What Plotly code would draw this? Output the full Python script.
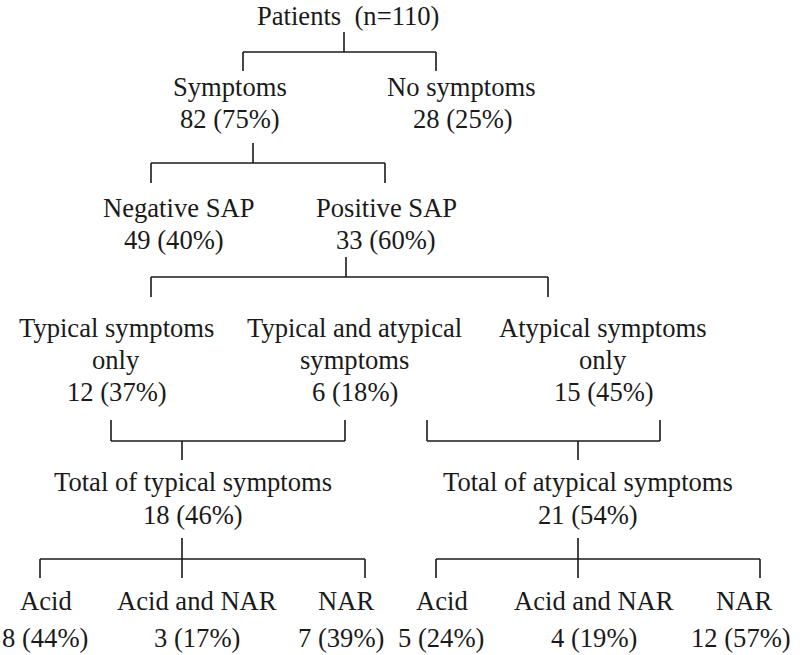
import plotly.graph_objects as go

# ---- data ----
node_names = [
    "Patients  (n=110)",
    "Symptoms", "No symptoms",
    "Negative SAP", "Positive SAP",
    "Typical symptoms<br>only", "Typical and atypical<br>symptoms", "Atypical symptoms<br>only",
    "Total of typical symptoms", "Total of atypical symptoms",
    "Acid", "Acid and NAR", "NAR",
    "Acid", "Acid and NAR", "NAR",
]
node_counts = [110, 82, 28, 49, 33, 12, 6, 15, 18, 21, 8, 3, 7, 5, 4, 12]
node_percents = [None, 75, 25, 40, 60, 37, 18, 45, 46, 54, 44, 17, 39, 24, 19, 57]

# ---- layout (pixel positions on an 800x655 canvas) ----
# per node: x centre of name lines, x centre of count line, y of each text line
node_pos = [
    (348, None, [16]),
    (230, 230, [87, 119]),
    (461, 463, [87, 119]),
    (178, 174, [208, 240]),
    (386, 386, [208, 240]),
    (116, 117, [328, 360, 392]),
    (354, 355, [328, 360, 392]),
    (603, 604, [328, 360, 392]),
    (193, 193, [482, 515]),
    (588, 588, [482, 515]),
    (46, 45, [601, 638]),
    (197, 197, [601, 638]),
    (346, 341, [601, 638]),
    (442, 441, [601, 638]),
    (594, 594, [601, 638]),
    (744, 741, [601, 638]),
]

# connectors: (stem_x, stem_top, stem_bottom, bar_y, bar_x0, bar_x1, drop_xs, drop_top, drop_bottom)
connectors = [
    (344, 32, 52, 52, 243, 436, [243, 436], 52, 71),
    (253, 143, 163, 163, 151, 385, [151, 385], 163, 183),
    (346, 257, 277, 277, 151, 548, [151, 548], 277, 297),
    (182, 441, 460, 441, 111, 345, [111, 345], 420, 441),
    (578, 441, 460, 441, 427, 660, [427, 660], 420, 441),
    (182, 538, 578, 559, 40, 365, [40, 365], 559, 578),
    (578, 538, 578, 559, 436, 760, [436, 760], 559, 578),
]

LINE_COLOR = "#1a1a1a"
TEXT_COLOR = "#1a1a1a"
FONT = "Liberation Serif, Times New Roman, serif"
FSIZE = 26.6

fig = go.Figure()

xs, ys = [], []
for (sx, st, sb, by, bx0, bx1, dxs, dt, db) in connectors:
    xs += [sx, sx, None, bx0, bx1, None]
    ys += [st, sb, None, by, by, None]
    for dx in dxs:
        xs += [dx, dx, None]
        ys += [dt, db, None]

fig.add_trace(go.Scatter(x=xs, y=ys, mode="lines",
                         line=dict(color=LINE_COLOR, width=1.6),
                         hoverinfo="skip", showlegend=False))

annotations = []
for name, cnt, pct, (nx, cx, lines_y) in zip(node_names, node_counts, node_percents, node_pos):
    name_lines = name.split("<br>")
    for line, y in zip(name_lines, lines_y):
        annotations.append(dict(x=nx, y=y, text=line, showarrow=False,
                                xanchor="center", yanchor="middle",
                                font=dict(family=FONT, size=FSIZE, color=TEXT_COLOR)))
    if pct is not None:
        annotations.append(dict(x=cx, y=lines_y[len(name_lines)], text=f"{cnt} ({pct}%)",
                                showarrow=False, xanchor="center", yanchor="middle",
                                font=dict(family=FONT, size=FSIZE, color=TEXT_COLOR)))

fig.update_layout(
    width=800, height=655,
    margin=dict(l=0, r=0, t=0, b=0),
    paper_bgcolor="white", plot_bgcolor="white",
    font=dict(family=FONT, size=FSIZE, color=TEXT_COLOR),
    xaxis=dict(range=[0, 800], visible=False, fixedrange=True),
    yaxis=dict(range=[655, 0], visible=False, fixedrange=True),
    annotations=annotations,
    showlegend=False,
)

fig.write_html(
    "out.html",
    config={"displayModeBar": False},
    post_script="document.body.style.margin='0';document.body.style.overflow='hidden';",
)
